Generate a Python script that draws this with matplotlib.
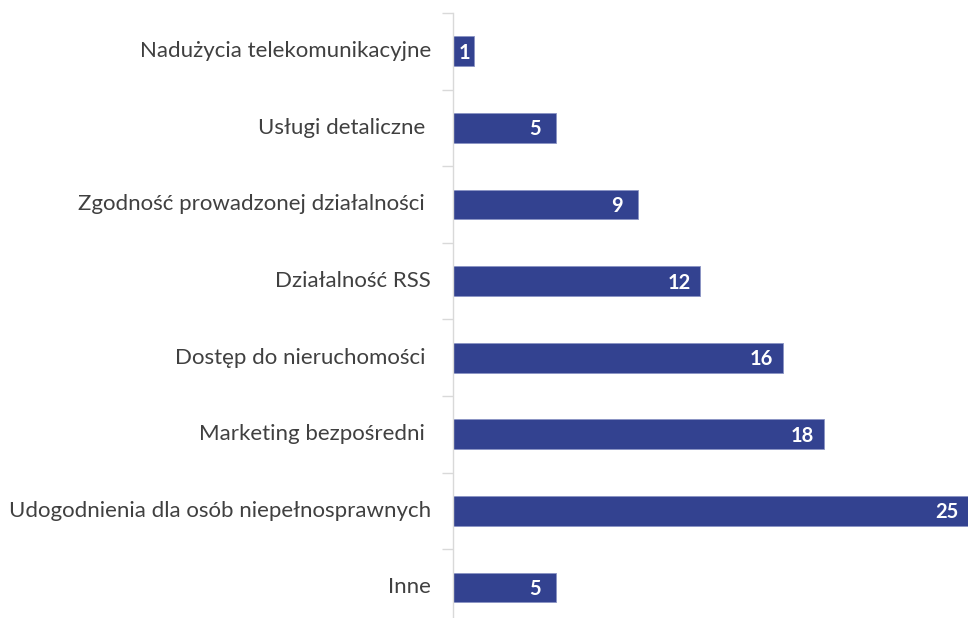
import matplotlib
matplotlib.use("Agg")
import matplotlib.pyplot as plt
import numpy as np

plt.rcParams['font.family'] = ['Lato', 'DejaVu Sans']

# kategorie od góry do dołu (niektóre z końcową spacją, jak w oryginale)
kategorie = [
    "Nadużycia telekomunikacyjne",
    "Usługi detaliczne ",
    "Zgodność prowadzonej działalności ",
    "Działalność RSS",
    "Dostęp do nieruchomości ",
    "Marketing bezpośredni ",
    "Udogodnienia dla osób niepełnosprawnych",
    "Inne",
]
wartosci = [1, 5, 9, 12, 16, 18, 25, 5]

kolor_slupka = "#334290"
kolor_tekstu = "#404040"

fig = plt.figure(figsize=(9.68, 6.18), dpi=100)
# oś od x=453 px do prawej krawędzi, od y=13 px do dołu
ax = fig.add_axes([453 / 968, 0.0, 1 - 453 / 968, (618 - 13) / 618])

y = np.arange(len(kategorie))
ax.barh(y, wartosci, height=0.39, color=kolor_slupka, edgecolor="#8a94c4", linewidth=0.6)

ax.set_xlim(0, 25)
ax.set_ylim(-0.5 + (618 - 13) / 76.6, -0.5)

# podpisy kategorii
for i, nazwa in enumerate(kategorie):
    ax.text(-22 / 20.6, i, nazwa, ha="right", va="center", fontsize=16, color=kolor_tekstu)

# wartości na słupkach
for i, v in enumerate(wartosci):
    xpos = max(v - 1.02, v / 2 + 0.05)
    ax.text(xpos, i + 0.02, str(v), ha="center", va="center", fontsize=14.5,
            color="white", fontweight="bold")

ax.set_xticks([])
ax.set_yticks(np.arange(len(kategorie)) - 0.5)
ax.set_yticklabels([])
ax.tick_params(axis="y", length=8, color="#d9d9d9", width=1)
for s in ["top", "right", "bottom"]:
    ax.spines[s].set_visible(False)
ax.spines["left"].set_color("#d9d9d9")
ax.spines["left"].set_linewidth(1)

fig.savefig("out.png", dpi=100)
